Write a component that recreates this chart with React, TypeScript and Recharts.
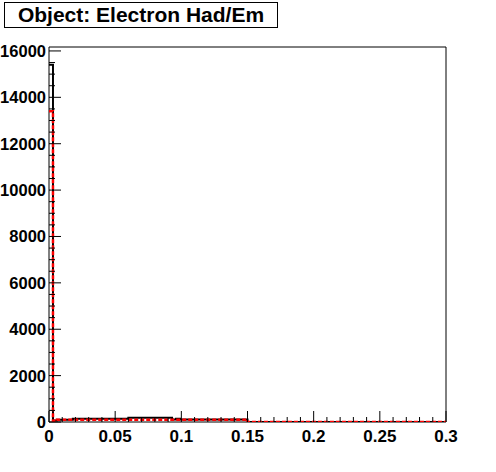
import { Line, LineChart, ReferenceArea, XAxis, YAxis } from "recharts";

const TITLE = "Object: Electron Had/Em";

const BIN_WIDTH = 0.003;
const X_MAX = 0.3;
const Y_MAX = 16170;

// electron Had/Em, 100 bins of 0.003 (black histogram)
const BLACK = [
  15400, 60, 100, 100, 100, 100, 140, 140, 140, 140,
  140, 140, 140, 140, 140, 140, 140, 140, 140, 140,
  180, 180, 180, 180, 180, 180, 180, 180, 180, 180,
  180, 110, 140, 105, 105, 105, 105, 105, 105, 105,
  105, 105, 105, 105, 105, 105, 105, 105, 105, 105,
  0, 0, 0, 0, 0, 0, 0, 0, 0, 0,
  0, 0, 0, 0, 0, 0, 0, 0, 0, 0,
  0, 0, 0, 0, 0, 0, 0, 0, 0, 0,
  0, 0, 0, 0, 0, 0, 0, 0, 0, 0,
  0, 0, 0, 0, 0, 0, 0, 0, 0, 0,
];

// reference histogram (red, dashed)
const RED = [
  13400, 50, 100, 100, 100, 100, 100, 100, 100, 100,
  100, 100, 100, 100, 100, 100, 100, 100, 100, 100,
  100, 100, 100, 100, 100, 100, 100, 100, 100, 100,
  100, 100, 100, 100, 100, 100, 100, 100, 100, 100,
  100, 100, 100, 100, 100, 100, 100, 100, 100, 100,
  0, 0, 0, 0, 0, 0, 0, 0, 0, 0,
  0, 0, 0, 0, 0, 0, 0, 0, 0, 0,
  0, 0, 0, 0, 0, 0, 0, 0, 0, 0,
  0, 0, 0, 0, 0, 0, 0, 0, 0, 0,
  0, 0, 0, 0, 0, 0, 0, 0, 0, 0,
];

const X_MAJOR = [0, 0.05, 0.1, 0.15, 0.2, 0.25, 0.3];
const X_LABELS = ["0", "0.05", "0.1", "0.15", "0.2", "0.25", "0.3"];
const Y_MAJOR = [0, 2000, 4000, 6000, 8000, 10000, 12000, 14000, 16000];
const Y_LABELS = ["0", "2000", "4000", "6000", "8000", "10000", "12000", "14000", "16000"];

const X_SUB = 5; // minor divisions per major
const Y_SUB = 4;

// step data: one point per bin low edge + closing point at the upper edge
const data = BLACK.map((b, i) => ({ x: +(i * BIN_WIDTH).toFixed(4), black: b, red: RED[i] }));
data.push({ x: X_MAX, black: BLACK[BLACK.length - 1], red: RED[RED.length - 1] });

function withMinors(major: number[], sub: number) {
  const out: number[] = [];
  for (let i = 0; i < major.length - 1; i++) {
    const step = (major[i + 1] - major[i]) / sub;
    for (let k = 0; k < sub; k++) out.push(+(major[i] + k * step).toFixed(6));
  }
  out.push(major[major.length - 1]);
  return out;
}

const xTicks = withMinors(X_MAJOR, X_SUB);
const yTicks = withMinors(Y_MAJOR, Y_SUB);

const FONT = "'Liberation Sans', Arial, Helvetica, sans-serif";

function XTick(props: any) {
  const { x, y, payload } = props;
  const idx = X_MAJOR.findIndex((v) => Math.abs(v - payload.value) < 1e-6);
  const major = idx >= 0;
  return (
    <g>
      <line x1={x} x2={x} y1={y} y2={y - (major ? 11 : 5)} stroke="#000" strokeWidth={1} />
      {major && (
        <text x={x} y={y + 19.5} textAnchor="middle" fontSize={17} fontWeight="bold" fontFamily={FONT} fill="#000">
          {X_LABELS[idx]}
        </text>
      )}
    </g>
  );
}

function YTick(props: any) {
  const { x, y, payload } = props;
  const idx = Y_MAJOR.indexOf(payload.value);
  const major = idx >= 0;
  return (
    <g>
      <line x1={x} x2={x + (major ? 12 : 6)} y1={y} y2={y} stroke="#000" strokeWidth={1} />
      {major && (
        <text x={x - 3} y={y + 6} textAnchor="end" fontSize={16.5} fontWeight="bold" fontFamily={FONT} fill="#000">
          {Y_LABELS[idx]}
        </text>
      )}
    </g>
  );
}

export default function App() {
  return (
    <div style={{ position: "fixed", left: 0, top: 0, width: 496, height: 472, background: "#fff" }}>
      <LineChart width={496} height={472} data={data} margin={{ top: 47, right: 50, bottom: 0, left: 0 }}>
        <XAxis
          dataKey="x"
          type="number"
          domain={[0, X_MAX]}
          ticks={xTicks}
          interval={0}
          height={50}
          tickSize={0}
          tickMargin={0}
          axisLine={false}
          tickLine={false}
          tick={<XTick />}
        />
        <YAxis
          type="number"
          domain={[0, Y_MAX]}
          ticks={yTicks}
          interval={0}
          width={49}
          tickSize={0}
          tickMargin={0}
          axisLine={false}
          tickLine={false}
          allowDataOverflow
          tick={<YTick />}
        />
        <ReferenceArea x1={0} x2={X_MAX} y1={0} y2={Y_MAX} fill="none" stroke="#000" strokeWidth={1} ifOverflow="visible" />
        <Line
          dataKey="black"
          type="stepAfter"
          stroke="#000"
          strokeWidth={2}
          dot={false}
          isAnimationActive={false}
        />
        <Line
          dataKey="red"
          type="stepAfter"
          stroke="#ff0000"
          strokeWidth={2.5}
          strokeDasharray="4 2"
          dot={false}
          isAnimationActive={false}
        />
      </LineChart>
      <div
        style={{
          position: "absolute",
          left: 4,
          top: 2,
          width: 272,
          height: 24,
          border: "1px solid #000",
          background: "#fff",
          fontFamily: FONT,
          fontWeight: "bold",
          fontSize: 21,
          lineHeight: "24px",
          textAlign: "center",
          paddingLeft: 0,
          boxSizing: "content-box",
        }}
      >
        {TITLE}
      </div>
    </div>
  );
}
